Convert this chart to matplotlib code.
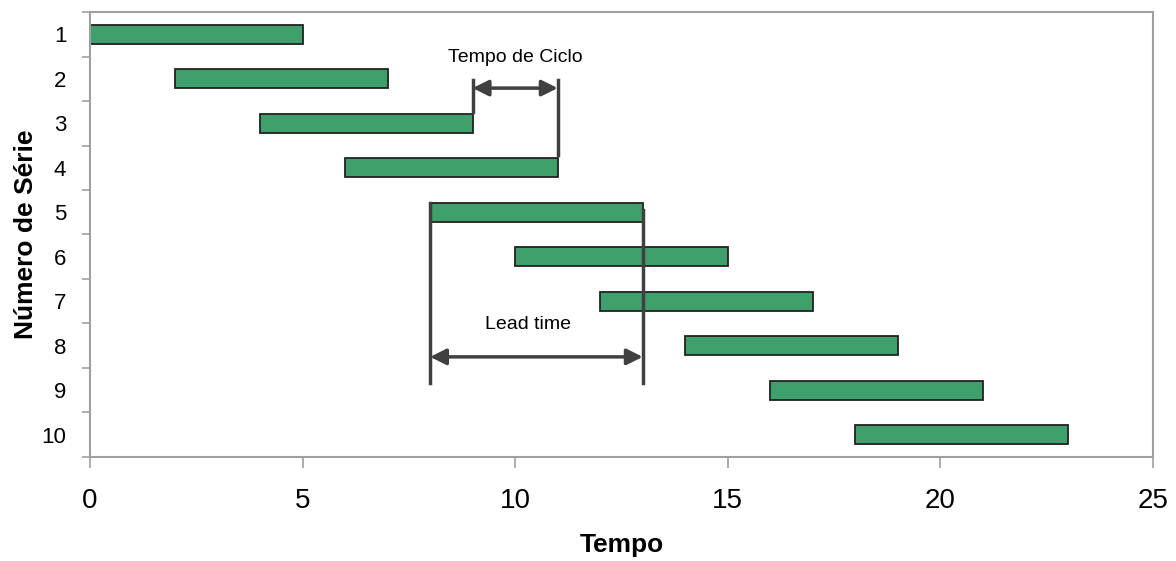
"""
Gantt-style chart of production series: cycle time vs. lead time.
"""

import matplotlib.pyplot as plt

# Series data: start time and duration of each series
SERIES = [1, 2, 3, 4, 5, 6, 7, 8, 9, 10]
STARTS = [0, 2, 4, 6, 8, 10, 12, 14, 16, 18]
DURATIONS = [5, 5, 5, 5, 5, 5, 5, 5, 5, 5]
X_TICKS = [0, 5, 10, 15, 20, 25]

BAR_COLOR = "#3fa06b"
EDGE_COLOR = "#222222"
NOTE_COLOR = "#404040"
SPINE_COLOR = "#a0a0a0"

plt.rcParams["font.family"] = ["Liberation Sans", "DejaVu Sans"]

fig = plt.figure(figsize=(11.76, 5.61), dpi=100)
ax = fig.add_axes([0.0765, 0.1854, 0.9039, 0.7932])

ax.barh(SERIES, DURATIONS, left=STARTS, height=0.42,
        color=BAR_COLOR, edgecolor=EDGE_COLOR, linewidth=1.3, zorder=2)

ax.set_xlim(0, 25)
ax.set_ylim(10.5, 0.5)

# Y: labels at row centres, tick marks on row boundaries
ax.set_yticks(SERIES)
ax.set_yticklabels([str(s) for s in SERIES], fontsize=16)
ax.set_yticks([s + 0.5 for s in [0] + SERIES], minor=True)
ax.tick_params(axis="y", which="major", length=0, pad=17)
ax.tick_params(axis="y", which="minor", length=6, color=SPINE_COLOR, width=1.2)

ax.set_xticks(X_TICKS)
ax.set_xticklabels([str(t) for t in X_TICKS], fontsize=20)
ax.tick_params(axis="x", length=8, color=SPINE_COLOR, width=1.2, pad=14)

for sp in ax.spines.values():
    sp.set_color(SPINE_COLOR)
    sp.set_linewidth(1.5)

ax.set_xlabel("Tempo", fontsize=19, fontweight="bold")
ax.set_ylabel("Número de Série", fontsize=19, fontweight="bold")
ax.xaxis.set_label_coords(0.5, -0.17)
ax.yaxis.set_label_coords(-0.049, 0.5)

head_props = dict(arrowstyle="<|-|>", color=NOTE_COLOR, lw=2.5,
                  mutation_scale=24, shrinkA=0, shrinkB=0)

# Cycle time: gap between the end of series 3 and the end of series 4
ct_a = STARTS[2] + DURATIONS[2]
ct_b = STARTS[3] + DURATIONS[3]
ax.plot([ct_a, ct_a], [2.03, 2.75], color=NOTE_COLOR, lw=2.5, zorder=3)
ax.plot([ct_b, ct_b], [2.03, 3.71], color=NOTE_COLOR, lw=2.5, zorder=3)
ax.annotate("", xy=(ct_a, 2.21), xytext=(ct_b, 2.21),
            arrowprops=head_props, zorder=3)
ax.text((ct_a + ct_b) / 2, 1.53, "Tempo de Ciclo", ha="center", va="center",
        fontsize=14)

# Lead time: span of series 5 from start to finish
lt_a = STARTS[4]
lt_b = STARTS[4] + DURATIONS[4]
ax.plot([lt_a, lt_a], [4.79, 8.84], color=NOTE_COLOR, lw=2.5, zorder=3)
ax.plot([lt_b, lt_b], [4.95, 8.84], color=NOTE_COLOR, lw=2.5, zorder=3)
ax.annotate("", xy=(lt_a, 8.25), xytext=(lt_b, 8.25),
            arrowprops=head_props, zorder=3)
ax.text((lt_a + lt_b) / 2 - 0.2, 7.53, "Lead time", ha="center", va="center",
        fontsize=14)

fig.savefig("out.png", dpi=100)
